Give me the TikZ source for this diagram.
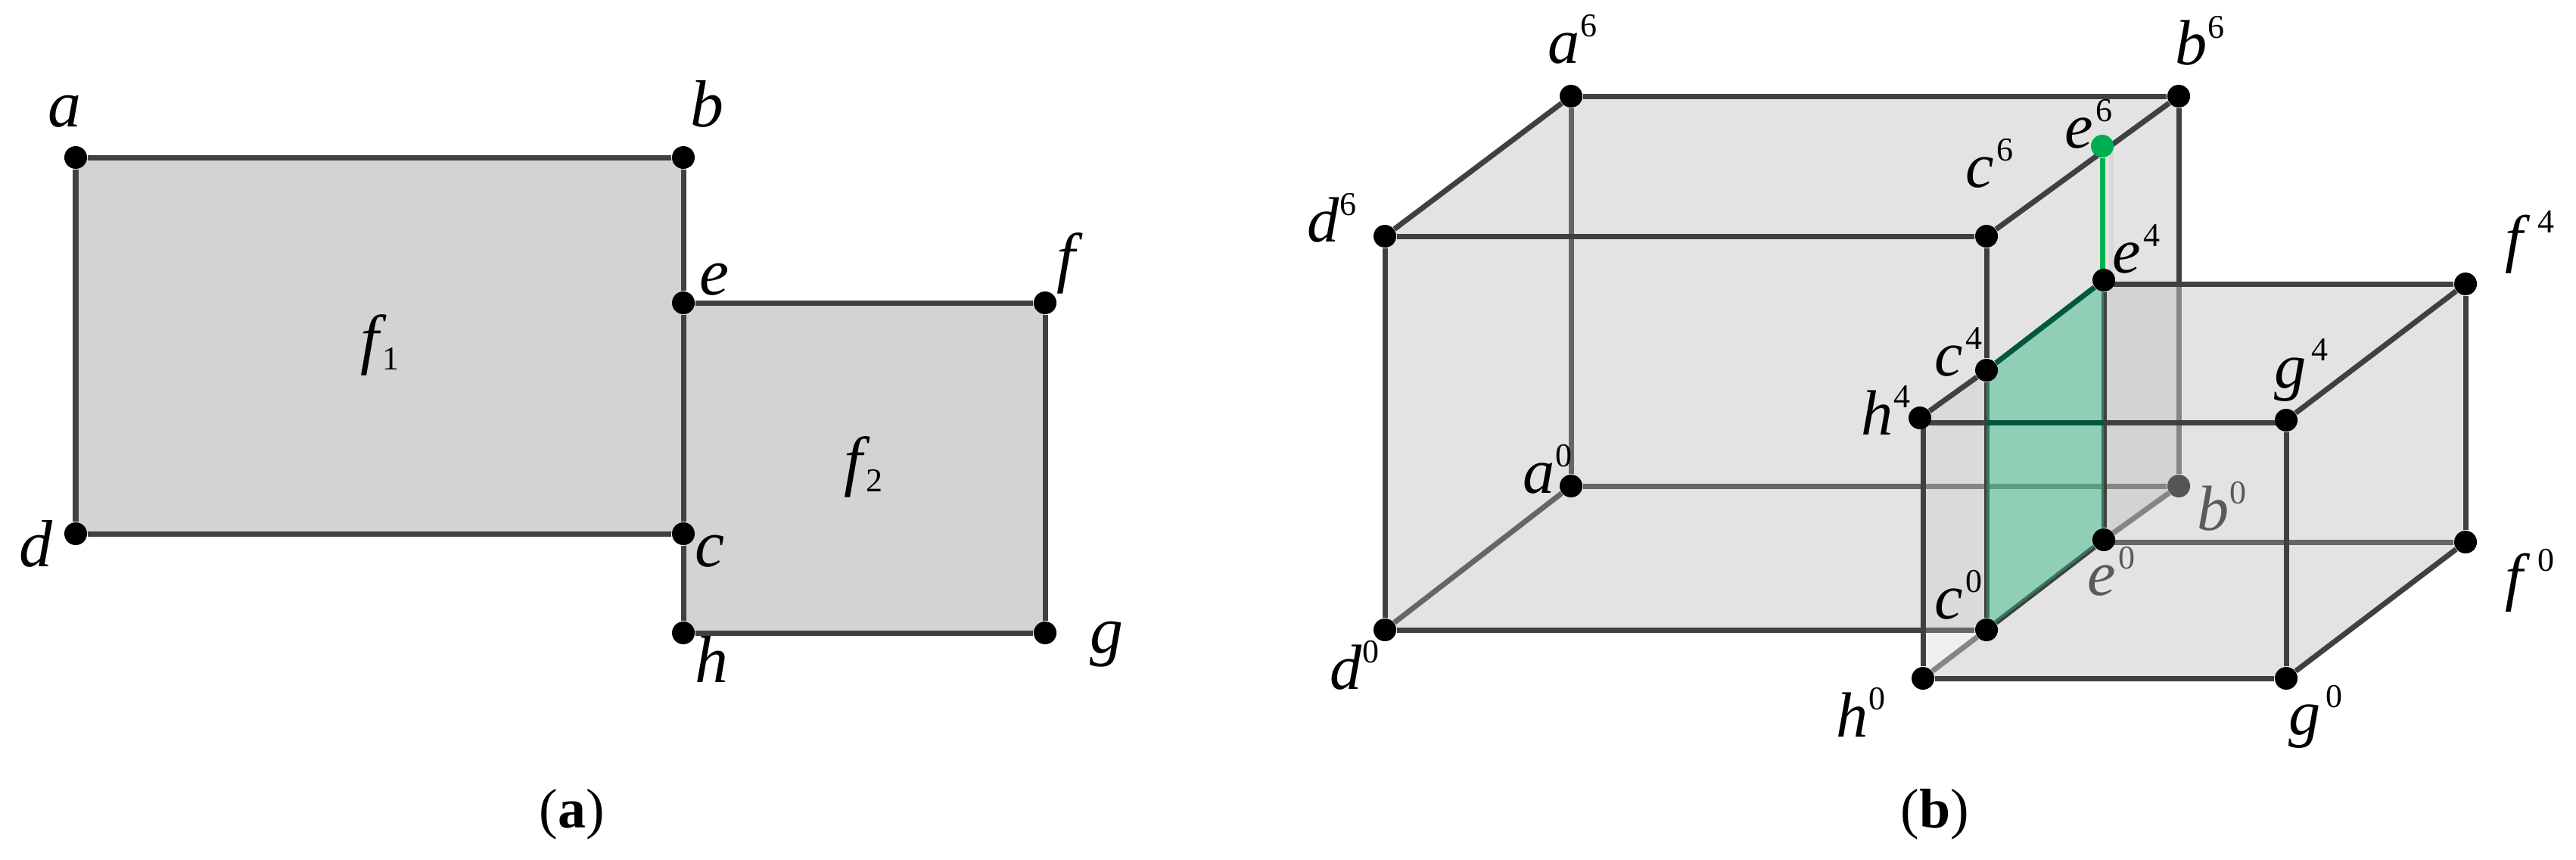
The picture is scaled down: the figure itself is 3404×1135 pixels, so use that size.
\documentclass[tikz,border=0pt]{standalone}
\usepackage{fontspec}
\setmainfont{Liberation Serif}
\usetikzlibrary{backgrounds}
\definecolor{edgedark}{HTML}{404040}
\definecolor{edgemid}{HTML}{666666}
\definecolor{edgelight}{HTML}{858585}
\definecolor{facea}{HTML}{D3D3D3}
\definecolor{faceb}{HTML}{E3E3E3}
\definecolor{overlapl}{HTML}{DADADA}
\definecolor{overlapr}{HTML}{D3D3D3}
\definecolor{cornerlight}{HTML}{F0F0F0}
\definecolor{plane}{HTML}{2CB87E}
\definecolor{vgreen}{HTML}{00B050}
\definecolor{deepgreen}{HTML}{00583E}
\definecolor{ghost}{HTML}{D8D8D8}
\definecolor{dimdot}{HTML}{555555}
\definecolor{dimtext}{HTML}{5A5A5A}
\newcommand{\supl}[3][0pt]{\textit{#2}\kern#1\raisebox{.42em}{\fontsize{12.5}{13}\selectfont #3}}
\newcommand{\subl}[2]{\textit{#1}\kern-1.5pt\raisebox{-.12em}{\fontsize{12.5}{13}\selectfont #2}}
\tikzset{
  x=0.01cm,y=-0.01cm,
  vertex/.style={circle,fill=black,inner sep=0pt,minimum size=0.30cm},
  edge/.style={draw=edgedark,line width=0.07cm},
  edgeM/.style={draw=edgemid,line width=0.07cm},
  edgeL/.style={draw=edgelight,line width=0.07cm},
  edgeG/.style={draw=deepgreen,line width=0.07cm},
  lablea/.style={inner sep=0pt,font=\fontsize{25}{30}\selectfont},
  lableb/.style={inner sep=0pt,font=\fontsize{24}{28}\selectfont},
  caption/.style={inner sep=0pt,font=\fontsize{21}{25}\selectfont}
}
\begin{document}
\begin{tikzpicture}
\useasboundingbox (0,0) rectangle (3404,1135);
% panel (a) vertices
\node[vertex] (a) at (100,208) {};
\node[vertex] (b) at (903,208) {};
\node[vertex] (e) at (903,400) {};
\node[vertex] (f) at (1381,400) {};
\node[vertex] (d) at (100,705) {};
\node[vertex] (c) at (903,705) {};
\node[vertex] (h) at (903,836) {};
\node[vertex] (g) at (1381,836) {};
\begin{scope}[on background layer]
  \fill[facea] (a.center) -- (b.center) -- (c.center) -- (d.center) -- cycle;
  \fill[facea] (e.center) -- (f.center) -- (g.center) -- (h.center) -- cycle;
  \draw[edge] (a) -- (b);
  \draw[edge] (b) -- (e);
  \draw[edge] (e) -- (c);
  \draw[edge] (c) -- (h);
  \draw[edge] (a) -- (d);
  \draw[edge] (d) -- (c);
  \draw[edge] (e) -- (f);
  \draw[edge] (f) -- (g);
  \draw[edge] (h) -- (g);
\end{scope}
\node[lablea] (la) at (85,147) {\textit{a}};
\node[lablea] (lb) at (934,137) {\textit{b}};
\node[lablea] (le) at (944,369) {\textit{e}};
\node[lablea] (lf) at (1414,348) {\textit{f}};
\node[lablea] (ld) at (48,718) {\textit{d}};
\node[lablea] (lc) at (938,728) {\textit{c}};
\node[lablea] (lh) at (940,871) {\textit{h}};
\node[lablea] (lg) at (1462,851) {\textit{g}};
\node[lablea] (lfa) at (502,456) {\subl{f}{1}};
\node[lablea] (lfb) at (1141,617) {\subl{f}{2}};
\node[caption] (capa) at (756,1076) {(\textbf{a})};
% panel (b) vertices
\node[vertex] (a6) at (2076,127) {};
\node[vertex] (b6) at (2879,127) {};
\node[vertex] (d6) at (1830,312) {};
\node[vertex] (c6) at (2625,312) {};
\node[vertex,fill=vgreen] (e6) at (2778,193) {};
\node[vertex] (e4) at (2780,370) {};
\node[vertex] (f4) at (3258,375) {};
\node[vertex] (c4) at (2625,489) {};
\node[vertex] (h4) at (2537,552) {};
\node[vertex] (g4) at (3021,555) {};
\node[vertex] (a0) at (2076,642) {};
\node[vertex,fill=dimdot] (b0) at (2879,642) {};
\node[vertex] (e0) at (2780,713) {};
\node[vertex] (f0) at (3258,716) {};
\node[vertex] (c0) at (2625,832) {};
\node[vertex] (d0) at (1830,832) {};
\node[vertex] (h0) at (2541,896) {};
\node[vertex] (g0) at (3021,896) {};
\coordinate (bh) at (2879,375);
\coordinate (hc) at (2541,832);
\coordinate (ah) at (2541,642);
\coordinate (eh) at (2780,375);
\coordinate (el) at (2780,716);
\coordinate (et) at (2778,370);
\coordinate (hl) at (2541,558);
\coordinate (gl) at (3021,558);
\coordinate (pl) at (2625,558);
\coordinate (pr) at (2780,558);
\coordinate (gt) at (2790,200);
\coordinate (gb) at (2790,365);
\begin{scope}[on background layer]
  \fill[faceb] (d6.center) -- (a6.center) -- (b6.center) -- (b0.center) -- (c0.center) -- (d0.center) -- cycle;
  \fill[faceb] (h4.center) -- (e4.center) -- (eh) -- (f4.center) -- (f0.center) -- (g0.center) -- (h0.center) -- cycle;
  \fill[overlapl] (h4.center) -- (c4.center) -- (c0.center) -- (hc) -- cycle;
  \fill[overlapr] (eh) -- (bh) -- (b0.center) -- (e0.center) -- cycle;
  \fill[cornerlight] (hc) -- (c0.center) -- (h0.center) -- cycle;
  \draw[ghost,line width=0.06cm] (gt) -- (gb);
  % hidden and fading edges
  \draw[edgeM] (a6) -- (a0);
  \draw[edgeM] (a0) -- (d0);
  \draw[edgeM] (a0) -- (ah);
  \draw[edgeL] (ah) -- (b0);
  \draw[edgeL] (e0) -- (b0);
  \draw[edgeL] (bh) -- (b0);
  \draw[edgeL] (c0) -- (h0);
  \draw[edgeM] (el) -- (f0);
  \draw[edgeM] (hc) -- (c0);
  % visible edges
  \draw[edge] (a6) -- (b6);
  \draw[edge] (a6) -- (d6);
  \draw[edge] (d6) -- (c6);
  \draw[edge] (b6) -- (c6);
  \draw[edge] (b6) -- (bh);
  \draw[edge] (d6) -- (d0);
  \draw[edge] (d0) -- (hc);
  \draw[edge] (c6) -- (c4);
  \draw[edge] (c4) -- (c0);
  \draw[edge] (c4) -- (h4);
  \draw[edge] (c0) -- (e0);
  \draw[edge] (e4) -- (e0);
  \draw[edge] (eh) -- (f4);
  \draw[edge] (f4) -- (f0);
  \draw[edge] (f4) -- (g4);
  \draw[edge] (hl) -- (gl);
  \draw[edge] (hl) -- (h0);
  \draw[edge] (h0) -- (g0);
  \draw[edge] (g4) -- (g0);
  \draw[edge] (g0) -- (f0);
  % shared plane
  \fill[plane,fill opacity=0.45] (c4.center) -- (e4.center) -- (e0.center) -- (c0.center) -- cycle;
  \draw[edgeG] (c4) -- (e4);
  \draw[edgeG] (pl) -- (pr);
  \draw[vgreen,line width=0.07cm] (e6) -- (et);
\end{scope}
\node[lableb] (la6) at (2078,52) {\supl{a}{6}};
\node[lableb] (lb6) at (2907,54) {\supl{b}{6}};
\node[lableb] (lc6) at (2629,216) {\supl[1pt]{c}{6}};
\node[lableb] (le6) at (2760,164) {\supl[1pt]{e}{6}};
\node[lableb] (ld6) at (1760,288) {\supl{d}{6}};
\node[lableb] (le4) at (2823,329) {\supl[1pt]{e}{4}};
\node[lableb] (lf4) at (3343,320) {\supl[3pt]{f}{4}};
\node[lableb] (lc4) at (2588,465) {\supl[1pt]{c}{4}};
\node[lableb] (lg4) at (3041,489) {\supl[2pt]{g}{4}};
\node[lableb] (lh4) at (2492,542) {\supl{h}{4}};
\node[lableb] (la0) at (2045,620) {\supl{a}{0}};
\node[lableb,text=dimtext] (lb0) at (2936,669) {\supl{b}{0}};
\node[lableb,text=dimtext] (le0) at (2790,755) {\supl[1pt]{e}{0}};
\node[lableb] (lf0) at (3343,767) {\supl[3pt]{f}{0}};
\node[lableb] (lc0) at (2588,786) {\supl[1pt]{c}{0}};
\node[lableb] (ld0) at (1790,879) {\supl{d}{0}};
\node[lableb] (lh0) at (2459,941) {\supl{h}{0}};
\node[lableb] (lg0) at (3060,947) {\supl[2pt]{g}{0}};
\node[caption] (capb) at (2557,1076) {(\textbf{b})};
\end{tikzpicture}
\end{document}
